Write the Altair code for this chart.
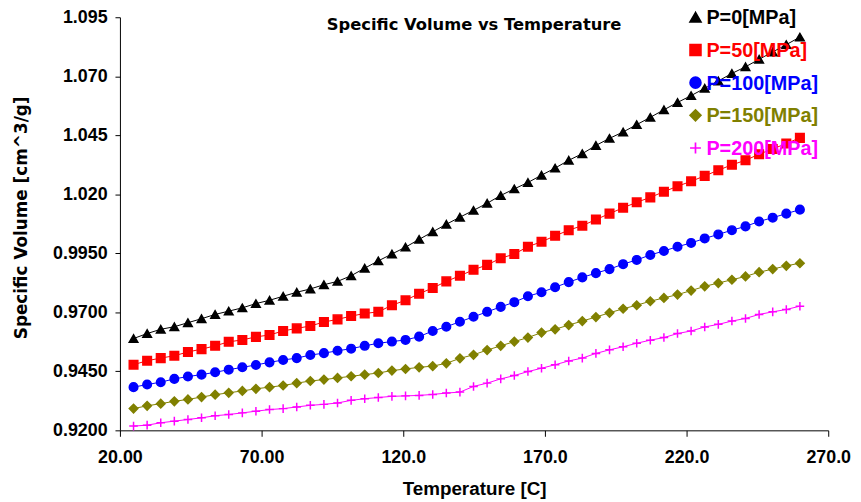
import altair as alt
import pandas as pd

# ---- data ----
temperature = [24.8, 29.6, 34.4, 39.2, 44.0, 48.8, 53.6, 58.4, 63.2, 68.0,
               72.8, 77.6, 82.4, 87.2, 92.0, 96.8, 101.6, 106.4, 111.2, 116.0,
               120.8, 125.6, 130.4, 135.2, 140.0, 144.8, 149.6, 154.4, 159.2, 164.0,
               168.8, 173.6, 178.4, 183.2, 188.0, 192.8, 197.6, 202.4, 207.2, 212.0,
               216.8, 221.6, 226.4, 231.2, 236.0, 240.8, 245.6, 250.4, 255.2, 260.0]

p0 = [0.9589, 0.9610, 0.9628, 0.9639, 0.9656, 0.9673, 0.9691, 0.9705, 0.9719, 0.9737,
      0.9751, 0.9768, 0.9785, 0.9799, 0.9817, 0.9831, 0.9855, 0.9887, 0.9918, 0.9947,
      0.9976, 1.0009, 1.0041, 1.0073, 1.0103, 1.0132, 1.0162, 1.0195, 1.0223, 1.0250,
      1.0281, 1.0311, 1.0344, 1.0372, 1.0407, 1.0437, 1.0464, 1.0495, 1.0526, 1.0558,
      1.0589, 1.0618, 1.0649, 1.0680, 1.0712, 1.0740, 1.0772, 1.0803, 1.0834, 1.0866]

p50 = [0.9478, 0.9495, 0.9506, 0.9516, 0.9532, 0.9544, 0.9558, 0.9575, 0.9583, 0.9596,
       0.9604, 0.9621, 0.9632, 0.9642, 0.9659, 0.9670, 0.9684, 0.9695, 0.9702, 0.9730,
       0.9751, 0.9779, 0.9803, 0.9831, 0.9855, 0.9880, 0.9901, 0.9929, 0.9947, 0.9978,
       0.9999, 1.0024, 1.0048, 1.0067, 1.0093, 1.0118, 1.0143, 1.0166, 1.0187, 1.0211,
       1.0234, 1.0255, 1.0278, 1.0302, 1.0325, 1.0344, 1.0370, 1.0392, 1.0415, 1.0439]

p100 = [0.9383, 0.9394, 0.9404, 0.9418, 0.9428, 0.9436, 0.9446, 0.9457, 0.9467, 0.9477,
        0.9488, 0.9498, 0.9506, 0.9519, 0.9527, 0.9537, 0.9546, 0.9558, 0.9569, 0.9576,
        0.9583, 0.9597, 0.9621, 0.9639, 0.9660, 0.9681, 0.9702, 0.9723, 0.9743, 0.9768,
        0.9785, 0.9806, 0.9828, 0.9848, 0.9866, 0.9883, 0.9904, 0.9922, 0.9943, 0.9960,
        0.9978, 0.9994, 1.0013, 1.0030, 1.0048, 1.0064, 1.0085, 1.0101, 1.0118, 1.0135]

p150 = [0.9292, 0.9304, 0.9313, 0.9323, 0.9331, 0.9341, 0.9351, 0.9359, 0.9367, 0.9376,
        0.9383, 0.9390, 0.9400, 0.9409, 0.9415, 0.9422, 0.9429, 0.9436, 0.9443, 0.9453,
        0.9460, 0.9467, 0.9472, 0.9484, 0.9505, 0.9520, 0.9540, 0.9558, 0.9576, 0.9593,
        0.9614, 0.9628, 0.9646, 0.9663, 0.9680, 0.9698, 0.9715, 0.9730, 0.9747, 0.9761,
        0.9775, 0.9792, 0.9810, 0.9824, 0.9838, 0.9852, 0.9870, 0.9883, 0.9897, 0.9908]

p200 = [0.9218, 0.9222, 0.9232, 0.9239, 0.9246, 0.9253, 0.9262, 0.9267, 0.9274, 0.9281,
        0.9288, 0.9292, 0.9299, 0.9306, 0.9310, 0.9316, 0.9327, 0.9334, 0.9339, 0.9344,
        0.9346, 0.9348, 0.9352, 0.9358, 0.9362, 0.9386, 0.9400, 0.9418, 0.9432, 0.9449,
        0.9463, 0.9478, 0.9494, 0.9506, 0.9526, 0.9541, 0.9554, 0.9569, 0.9582, 0.9593,
        0.9610, 0.9621, 0.9638, 0.9649, 0.9663, 0.9674, 0.9691, 0.9702, 0.9712, 0.9726]

series_names = ["P=0[MPa]", "P=50[MPa]", "P=100[MPa]", "P=150[MPa]", "P=200[MPa]"]
series_values = [p0, p50, p100, p150, p200]
series_colors = ["#000000", "#ff0000", "#0000ff", "#808000", "#ff00ff"]
series_shapes = ["triangle-up", "square", "circle", "diamond", "M-1,0L1,0M0,-1L0,1"]

x_ticks = [20, 70, 120, 170, 220, 270]
y_ticks = [0.92, 0.945, 0.97, 0.995, 1.02, 1.045, 1.07, 1.095]

# ---- build the table ----
rows = []
for name, vals in zip(series_names, series_values):
    for t, v in zip(temperature, vals):
        rows.append({"T": t, "V": v, "series": name})
df = pd.DataFrame(rows)
leg_df = pd.DataFrame({"series": series_names, "label": series_names})

TICK_FONT = "Liberation Sans"
BOLD_WIDE = "DejaVu Sans"

color_scale = alt.Scale(domain=series_names, range=series_colors)
shape_scale = alt.Scale(domain=series_names, range=series_shapes)
size_scale = alt.Scale(domain=series_names, range=[75, 75, 75, 75, 110])
leg_size_scale = alt.Scale(domain=series_names, range=[120, 120, 120, 120, 150])

x_enc = alt.X(
    "T:Q",
    scale=alt.Scale(domain=[20, 270], nice=False, zero=False),
    axis=alt.Axis(
        values=x_ticks,
        labelExpr="format(datum.value, '.4r')",
        labelFlush=False,
        title="Temperature [C]",
        titleFont=TICK_FONT, titleFontSize=19, titleFontWeight="bold",
        titleBaseline="alphabetic", titleY=65,
        labelFont=TICK_FONT, labelFontSize=18, labelFontWeight="bold",
        labelPadding=12, tickSize=6,
    ),
)
y_enc = alt.Y(
    "V:Q",
    scale=alt.Scale(domain=[0.92, 1.095], nice=False, zero=False),
    axis=alt.Axis(
        values=y_ticks,
        labelExpr="datum.value >= 1 ? format(datum.value, '.3f') : format(datum.value, '.4f')",
        labelFlush=False,
        title="Specific Volume [cm^3/g]",
        titleFont=BOLD_WIDE, titleFontSize=17, titleFontWeight="bold",
        titleBaseline="alphabetic", titleX=-94, titleY=202, titleAngle=270,
        labelFont=TICK_FONT, labelFontSize=18, labelFontWeight="bold",
        labelPadding=8, tickSize=5,
    ),
)

base = alt.Chart(df)
lines = base.mark_line(strokeWidth=1).encode(
    x=x_enc, y=y_enc,
    color=alt.Color("series:N", scale=color_scale, legend=None),
    detail="series:N",
)
points = base.mark_point(filled=True, strokeWidth=1.5, opacity=1).encode(
    x=x_enc, y=y_enc,
    color=alt.Color("series:N", scale=color_scale, legend=None),
    stroke=alt.Stroke("series:N", scale=color_scale, legend=None),
    shape=alt.Shape("series:N", scale=shape_scale, legend=None),
    size=alt.Size("series:N", scale=size_scale, legend=None),
)
main = alt.layer(lines, points)

leg_y = alt.Y("series:N", sort=series_names,
              scale=alt.Scale(range=[0, 132], padding=0), axis=None)
leg_base = alt.Chart(leg_df)
leg_pts = leg_base.mark_point(filled=True, strokeWidth=1.7, opacity=1).encode(
    x=alt.value(581), y=leg_y,
    color=alt.Color("series:N", scale=color_scale, legend=None),
    stroke=alt.Stroke("series:N", scale=color_scale, legend=None),
    shape=alt.Shape("series:N", scale=shape_scale, legend=None),
    size=alt.Size("series:N", scale=leg_size_scale, legend=None),
)
leg_txt = leg_base.mark_text(align="left", baseline="middle", font=TICK_FONT,
                             fontSize=20, fontWeight="bold", dy=1).encode(
    x=alt.value(592), y=leg_y,
    text="label:N",
    color=alt.Color("series:N", scale=color_scale, legend=None),
)
legend = alt.layer(leg_pts, leg_txt)

chart = alt.layer(main, legend).resolve_scale(y="independent", size="independent").properties(
    width=715,
    height=417,
    title=alt.TitleParams(
        "Specific Volume vs Temperature",
        font=BOLD_WIDE, fontSize=16.5, fontWeight="bold", color="#000000",
        anchor="middle", frame="group", orient="top", baseline="alphabetic",
        offset=0, dy=38,
    ),
    autosize=alt.AutoSizeParams(type="none"),
    padding={"left": 113, "top": 7, "right": 25, "bottom": 70},
    background="#ffffff",
).configure_view(stroke=None).configure_axis(
    grid=False, domainColor="#000000", tickColor="#000000",
    labelColor="#000000", titleColor="#000000", domainWidth=1, tickWidth=1,
)

chart.save("out.html", embed_options={"renderer": "svg", "actions": False})
